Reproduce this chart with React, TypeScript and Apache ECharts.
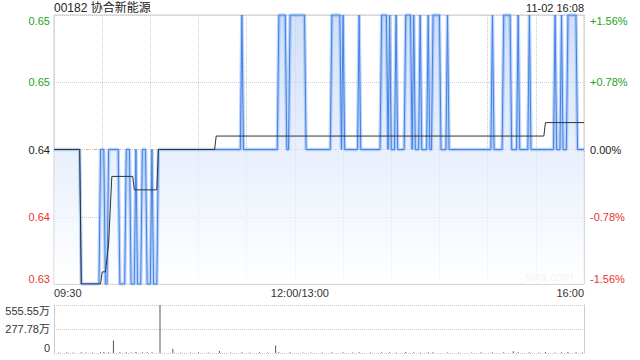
import React, { useEffect, useRef } from 'react';
import * as echarts from 'echarts';

const titleText = '00182 协合新能源';
const stampText = '11-02 16:08';
const prevClose = 0.64;

// minutes since 09:30 (lunch break removed), price turning points
const priceMinutes = [
  0, 16, 17, 28, 29, 31, 32, 33, 34, 40, 41, 44, 45, 47, 48, 50, 51, 52, 54, 55, 57, 58, 60, 61, 62, 64, 65,
  116, 117, 118,
  139, 140, 144, 145, 146, 147, 156, 157,
  172, 173, 178, 179, 180, 181,
  189, 190, 191,
  203, 204, 207, 208, 209, 210,
  212, 213, 214,
  218, 219, 222, 223, 224, 225,
  227, 228, 229,
  232, 233, 234,
  235, 236, 240, 241,
  244, 245, 246,
  272, 273, 274,
  279, 280, 284, 285,
  288, 289, 290,
  295, 296, 297,
  311, 312, 313,
  315, 316, 317,
  319, 320, 325, 326,
  330,
];
const priceValues = [
  0.64, 0.64, 0.63, 0.63, 0.64, 0.64, 0.63, 0.63, 0.64, 0.64, 0.63, 0.63, 0.64, 0.64, 0.63, 0.63, 0.64, 0.63, 0.63, 0.64, 0.64, 0.63, 0.63, 0.64, 0.63, 0.63, 0.64,
  0.64, 0.65, 0.64,
  0.64, 0.65, 0.65, 0.64, 0.64, 0.65, 0.65, 0.64,
  0.64, 0.65, 0.65, 0.64, 0.65, 0.64,
  0.64, 0.65, 0.64,
  0.64, 0.65, 0.65, 0.64, 0.65, 0.64,
  0.64, 0.65, 0.64,
  0.64, 0.65, 0.65, 0.64, 0.65, 0.64,
  0.64, 0.65, 0.64,
  0.64, 0.65, 0.64,
  0.64, 0.65, 0.65, 0.64,
  0.64, 0.65, 0.64,
  0.64, 0.65, 0.64,
  0.64, 0.65, 0.65, 0.64,
  0.64, 0.65, 0.64,
  0.64, 0.65, 0.64,
  0.64, 0.65, 0.64,
  0.64, 0.65, 0.64,
  0.64, 0.65, 0.65, 0.64,
  0.64,
];

const avgMinutes = [0, 16, 17, 29, 30, 32, 34, 36, 49, 50, 64, 65, 100, 101, 305, 306, 330];
const avgValues = [0.64, 0.64, 0.63, 0.63, 0.6309, 0.6309, 0.633, 0.638, 0.638, 0.637, 0.637, 0.64, 0.64, 0.641, 0.641, 0.642, 0.642];

// volume (万股)
const volMinutes = [
  3, 8, 12, 17, 20, 24, 29, 31, 34, 37, 41, 45, 48, 51, 55, 58, 61, 66, 74, 79, 85, 90, 96, 103, 110, 117, 122,
  128, 133, 138, 140, 147, 155, 160, 167, 173, 180, 186, 190, 197, 204, 209, 213, 219, 224, 228, 233, 236, 245,
  252, 260, 266, 273, 280, 286, 289, 296, 302, 306, 312, 316, 320, 325, 329,
];
const volValues = [
  6, 8, 5, 10, 7, 6, 9, 12, 8, 145, 10, 9, 7, 11, 8, 9, 10, 555.55, 45, 7, 6, 8, 5, 23, 7, 9, 6,
  8, 5, 87, 9, 10, 6, 7, 5, 8, 9, 6, 8, 5, 10, 9, 7, 11, 8, 6, 9, 10, 7,
  5, 6, 8, 9, 10, 20, 8, 9, 6, 12, 7, 9, 11, 8, 6,
];

const xTickMinutes = [0, 150, 330];
const xTickLabels = ['09:30', '12:00/13:00', '16:00'];
const priceTickLabels = ['0.63', '0.64', '0.64', '0.65', '0.65'];
const pctTickLabels = ['-1.56%', '-0.78%', '0.00%', '+0.78%', '+1.56%'];
const tickColors = ['#ee3030', '#ee3030', '#222222', '#22a322', '#22a322'];
const volTickLabels = ['0', '277.78万', '555.55万'];

const FONT = '"Liberation Sans", Arial, "Noto Sans CJK SC", sans-serif';

export default function App() {
  const ref = useRef<HTMLDivElement>(null);
  useEffect(() => {
    const chart = echarts.init(ref.current as HTMLDivElement, undefined, { renderer: 'svg' });
    const priceData = priceMinutes.map((m, i) => [m, priceValues[i]]);
    const avgData = avgMinutes.map((m, i) => [m, avgValues[i]]);
    const volData = volMinutes.map((m, i) => [m, volValues[i]]);
    const pIdx = (v: any) => Math.round((parseFloat(v) - 0.63) / 0.005);
    const rIdx = (v: any) => Math.round((parseFloat(v) + 1.5625) / 0.78125);
    const vIdx = (v: any) => Math.round(parseFloat(v) / 277.775);

    const option: any = {
      animation: false,
      textStyle: { fontFamily: FONT },
      grid: [
        { left: 54, right: 56, top: 15, height: 269, show: true, borderColor: '#cccccc', borderWidth: 1 },
        { left: 54, right: 56, top: 305, height: 48, show: false },
      ],
      xAxis: [
        {
          type: 'value', gridIndex: 0, min: 0, max: 330, interval: 30,
          axisLine: { show: false }, axisTick: { show: false },
          splitLine: { show: true, lineStyle: { color: '#cccccc', type: 'dotted' } },
          axisLabel: {
            show: true, color: '#333', fontSize: 11, fontFamily: FONT, margin: 3,
            showMinLabel: true, showMaxLabel: true,
            alignMinLabel: 'left', alignMaxLabel: 'right',
            rich: { mid: { padding: [0, 0, 0, 10], fontSize: 11, color: '#333', fontFamily: FONT } },
            formatter: (v: number) => {
              const i = xTickMinutes.indexOf(Math.round(v));
              if (i < 0) return '';
              return i === 1 ? `{mid|${xTickLabels[i]}}` : xTickLabels[i];
            },
          },
        },
        { type: 'value', gridIndex: 1, min: 0, max: 330, show: false },
      ],
      yAxis: [
        {
          type: 'value', gridIndex: 0, min: 0.63, max: 0.65, interval: 0.005, position: 'left',
          axisLine: { show: false }, axisTick: { show: false },
          splitLine: { show: true, lineStyle: { color: '#cccccc', type: 'dotted' } },
          axisLabel: {
            fontSize: 11, fontFamily: FONT, margin: 4,
            verticalAlignMinLabel: 'bottom', verticalAlignMaxLabel: 'top',
            formatter: (v: any) => priceTickLabels[pIdx(v)] ?? '',
            color: (v: any) => tickColors[pIdx(v)] ?? '#333',
          },
        },
        {
          type: 'value', gridIndex: 0, min: -1.5625, max: 1.5625, interval: 0.78125, position: 'right',
          axisLine: { show: false }, axisTick: { show: false }, splitLine: { show: false },
          axisLabel: {
            fontSize: 11, fontFamily: FONT, margin: 6,
            verticalAlignMinLabel: 'bottom', verticalAlignMaxLabel: 'top',
            formatter: (v: any) => pctTickLabels[rIdx(v)] ?? '',
            color: (v: any) => tickColors[rIdx(v)] ?? '#333',
          },
        },
        {
          type: 'value', gridIndex: 1, min: 0, max: 555.55, interval: 277.775, position: 'left',
          axisLine: { show: true, lineStyle: { color: '#cccccc' } }, axisTick: { show: false },
          splitLine: { show: true, lineStyle: { color: '#cccccc', type: 'dotted' } },
          axisLabel: {
            fontSize: 11, fontFamily: FONT, margin: 4, color: '#333',
            verticalAlignMinLabel: 'bottom', verticalAlignMaxLabel: 'top',
            formatter: (v: any) => volTickLabels[vIdx(v)] ?? '',
          },
        },
        {
          type: 'value', gridIndex: 1, min: 0, max: 555.55, position: 'right',
          axisLine: { show: true, lineStyle: { color: '#cccccc' } }, axisTick: { show: false },
          splitLine: { show: false }, axisLabel: { show: false },
        },
      ],
      series: [
        {
          type: 'line', xAxisIndex: 0, yAxisIndex: 0, z: 1, silent: true,
          data: [[0, prevClose], [330, prevClose]], symbol: 'none',
          lineStyle: { color: '#f3a273', width: 1, type: [3, 5] },
        },
        {
          type: 'line', xAxisIndex: 0, yAxisIndex: 0, z: 2, silent: true,
          data: priceData, showSymbol: false, symbol: 'none',
          lineStyle: { color: 'rgba(95,150,235,0.4)', width: 3.5 },
          areaStyle: {
            origin: 'start',
            color: new echarts.graphic.LinearGradient(0, 15, 0, 284, [
              { offset: 0, color: 'rgba(190,212,247,1)' },
              { offset: 1, color: 'rgba(255,255,255,1)' },
            ], true),
          },
        },
        {
          type: 'line', xAxisIndex: 0, yAxisIndex: 0, z: 3, silent: true,
          data: priceData, showSymbol: false, symbol: 'none',
          lineStyle: { color: '#4283ea', width: 1 },
        },
        {
          type: 'line', xAxisIndex: 0, yAxisIndex: 0, z: 4, silent: true,
          data: avgData, showSymbol: false, symbol: 'none',
          lineStyle: { color: '#333333', width: 1 },
        },
        {
          type: 'bar', xAxisIndex: 1, yAxisIndex: 2, silent: true,
          data: volData, barWidth: 1,
          itemStyle: { color: '#555555' },
        },
      ],
      graphic: [
        { type: 'text', left: 54, top: 2, style: { text: titleText, font: `12px ${FONT}`, fill: '#222' } },
        { type: 'text', right: 56, top: 2, style: { text: stampText, font: `11px ${FONT}`, fill: '#222' } },
        { type: 'text', right: 67, top: 271, z: 0, style: { text: 'sina.com', font: `12px ${FONT}`, fill: '#dadada' } },
      ],
    };
    chart.setOption(option);
    return () => chart.dispose();
  }, []);
  return <div ref={ref} style={{ position: 'absolute', left: 0, top: 0, width: 640, height: 360 }} />;
}
